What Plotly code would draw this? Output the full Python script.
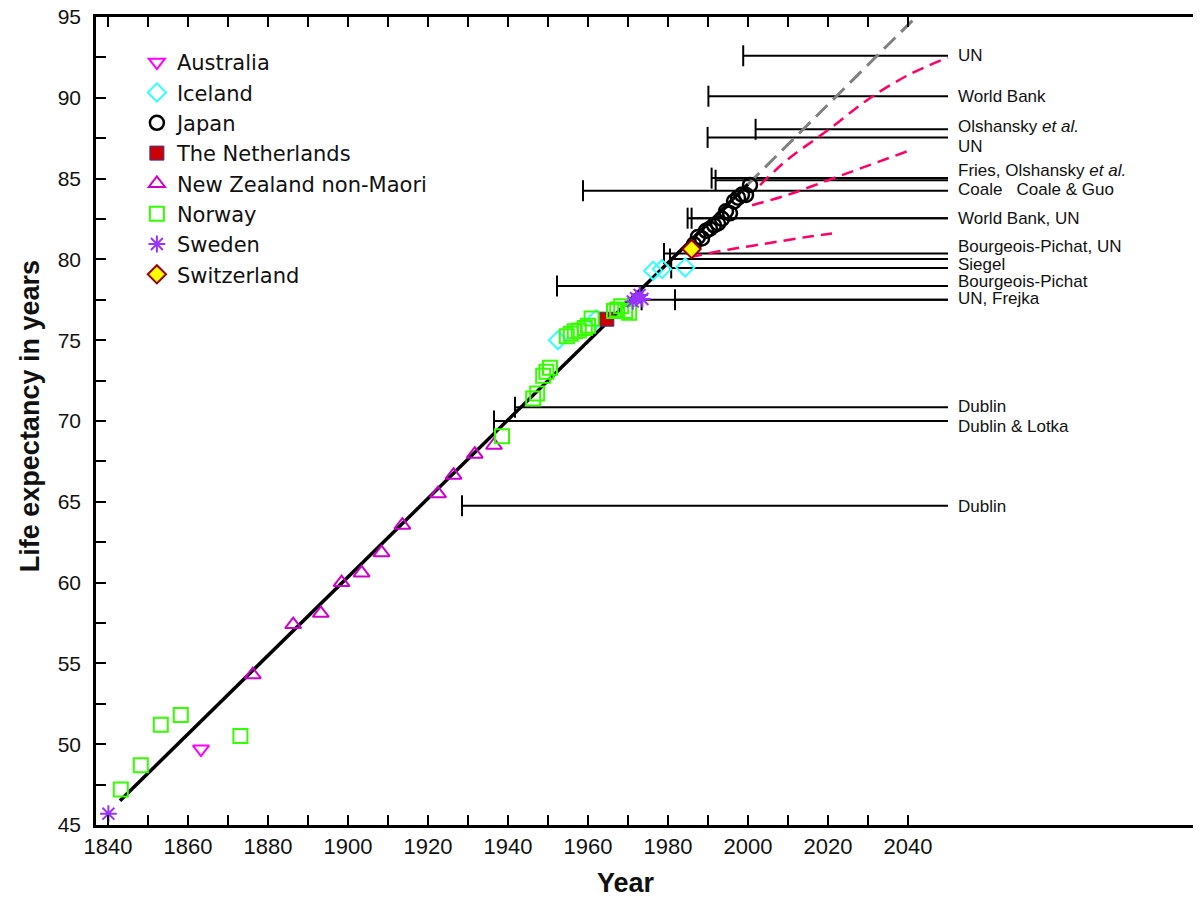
import plotly.graph_objects as go

# ---------------- data ----------------
aus_year = [1863.25]
aus_e0 = [49.7]

ice_year = [1952.5, 1962.0, 1976.3, 1978.5, 1984.3]
ice_e0 = [75.0, 76.3, 79.3, 79.4, 79.5]

jpn_year = [1986.5, 1987.5, 1988.5, 1989.5, 1990.5, 1991.5, 1992.5, 1993.5,
            1994.5, 1995.5, 1996.5, 1997.5, 1998.5, 1999.5, 2000.5]
jpn_e0 = [80.93, 81.39, 81.30, 81.77, 81.90, 82.11, 82.22, 82.51,
          82.98, 82.85, 83.59, 83.82, 84.01, 83.99, 84.60]

nld_year = [1964.7]
nld_e0 = [76.3]

nzl_year = [1876.2, 1886.3, 1893.2, 1898.4, 1903.4, 1908.4, 1913.6, 1922.5,
            1926.4, 1931.7, 1936.5]
nzl_e0 = [54.3, 57.4, 58.1, 60.0, 60.6, 61.85, 63.55, 65.5, 66.65, 67.95, 68.5]

nor_year = [1843.2, 1848.2, 1853.2, 1858.2, 1873.1, 1938.5, 1946.3, 1947.3,
            1948.8, 1949.6, 1950.5, 1954.7, 1955.7, 1956.7, 1957.7, 1959.2,
            1960.0, 1960.9, 1966.5, 1967.3, 1968.3, 1969.3, 1970.3]
nor_e0 = [47.2, 48.7, 51.2, 51.8, 50.5, 69.05, 71.4, 71.7, 72.8, 73.05, 73.3,
          75.25, 75.4, 75.55, 75.6, 75.75, 75.9, 76.35, 76.8, 76.9, 77.1, 76.8, 76.7]

swe_year = [1840.1, 1971.2, 1972.0, 1972.9, 1973.6]
swe_e0 = [45.7, 77.4, 77.6, 77.8, 77.55]

che_year = [1985.9]
che_e0 = [80.64]

# linear trend of record life expectancy and its extrapolation
trend_year = [1843, 2000]
trend_e0 = [46.5, 84.65]
extrap_year = [2000, 2042]
extrap_e0 = [84.65, 95.0]

# official projections (dashed red)
proj1_year = [2003, 2010, 2020, 2030, 2040, 2050]
proj1_e0 = [84.6, 86.2, 88.0, 89.9, 91.4, 92.5]
proj2_year = [2001, 2010, 2020, 2030, 2041]
proj2_e0 = [83.35, 84.0, 84.9, 85.8, 86.8]
proj3_year = [1985.5, 1995, 2005, 2015, 2021]
proj3_e0 = [80.15, 80.6, 81.0, 81.4, 81.6]

# asserted ceilings: year asserted, level
ceil_start = [1998.8, 1990.1, 2001.9, 1989.9, 1990.9, 1991.9, 1958.75, 1984.9,
              1985.9, 1979.0, 1980.5, 1980.8, 1952.25, 1973.4, 1981.75,
              1941.75, 1936.5, 1928.5]
ceil_level = [92.6, 90.1, 88.05, 87.55, 85.03, 84.9, 84.25, 82.55,
              82.55, 80.37, 80.03, 79.47, 78.35, 77.5, 77.5,
              70.85, 70.0, 64.75]
ceil_end = 2050

label_text = ["UN", "World Bank", "Olshansky <i>et al.</i>", "UN",
              "Fries, Olshansky <i>et al.</i>", "Coale   Coale & Guo",
              "World Bank, UN", "Bourgeois-Pichat, UN", "Siegel",
              "Bourgeois-Pichat", "UN, Frejka", "Dublin", "Dublin & Lotka", "Dublin"]
label_y = [92.6, 90.07, 88.2, 87.0, 85.5, 84.35, 82.55, 80.77, 79.7,
           78.66, 77.55, 70.87, 69.63, 64.74]
label_x = 2052

x_ticks = list(range(1840, 2041, 10))
x_ticktext = [str(v) if v % 20 == 0 else "" for v in x_ticks]
y_ticks = [45 + 2.5 * i for i in range(21)]
y_ticktext = [str(int(v)) if v % 5 == 0 else "" for v in y_ticks]

FONT = "Liberation Sans, Arial, Helvetica, sans-serif"

fig = go.Figure()

# ceilings
for s, lv in zip(ceil_start, ceil_level):
    fig.add_trace(go.Scatter(x=[s, ceil_end], y=[lv, lv], mode="lines",
                             line=dict(color="black", width=2),
                             showlegend=False, hoverinfo="skip"))
fig.add_trace(go.Scatter(x=ceil_start, y=ceil_level, mode="markers",
                         marker=dict(symbol="line-ns", size=15,
                                     line=dict(color="black", width=2)),
                         showlegend=False, hoverinfo="skip"))

# projections
for xs, ys in [(proj1_year, proj1_e0), (proj2_year, proj2_e0), (proj3_year, proj3_e0)]:
    fig.add_trace(go.Scatter(x=xs, y=ys, mode="lines", line_shape="spline",
                             line=dict(color="#FF0066", width=2.5, dash="12px,7px"),
                             showlegend=False, hoverinfo="skip"))

fig.add_trace(go.Scatter(x=extrap_year, y=extrap_e0, mode="lines",
                         line=dict(color="#808080", width=3, dash="16px,8px"),
                         showlegend=False, hoverinfo="skip"))
fig.add_trace(go.Scatter(x=trend_year, y=trend_e0, mode="lines",
                         line=dict(color="black", width=3.5),
                         showlegend=False, hoverinfo="skip"))

series = [
    ("Australia", aus_year, aus_e0, "triangle-down-open", "#FF00FF", None, 14),
    ("Iceland", ice_year, ice_e0, "diamond-open", "#33FFFF", None, 14),
    ("Japan", jpn_year, jpn_e0, "circle-open", "black", None, 14),
    ("The Netherlands", nld_year, nld_e0, "square", "#CC0000", "#333399", 14),
    ("New Zealand non-Maori", nzl_year, nzl_e0, "triangle-up-open", "#CC00CC", None, 14),
    ("Norway", nor_year, nor_e0, "square-open", "#33FF00", None, 14),
    ("Sweden", swe_year, swe_e0, "asterisk-open", "#9933FF", None, 14),
    ("Switzerland", che_year, che_e0, "diamond", "#FFFF00", "#990000", 14),
]
for i, (name, xs, ys, sym, col, lcol, sz) in enumerate(series):
    if lcol is None:
        lw = 2.5 if name == "Japan" else 2
        mk = dict(symbol=sym, size=sz, color=col, line=dict(color=col, width=lw))
    else:
        mk = dict(symbol=sym, size=sz, color=col,
                  line=dict(color=lcol, width=2 if sym == "diamond" else 1))
    fig.add_trace(go.Scatter(x=xs, y=ys, mode="markers", name=name, marker=mk))

for t, yv in zip(label_text, label_y):
    fig.add_annotation(x=label_x, y=yv, xref="x", yref="y", text=t, showarrow=False,
                       xanchor="left", yanchor="middle",
                       font=dict(family=FONT, size=17, color="#111"))

fig.add_annotation(x=0.48, y=-0.0718, xref="paper", yref="paper", text="<b>Year</b>",
                   showarrow=False, xanchor="center", yanchor="middle",
                   font=dict(family=FONT, size=27, color="#111"))
fig.add_annotation(x=-0.0597, y=0.506, xref="paper", yref="paper",
                   text="<b>Life expectancy in years</b>", textangle=-90,
                   showarrow=False, xanchor="center", yanchor="middle",
                   font=dict(family=FONT, size=27, color="#111"))

# page body has an 8px margin, so the figure is 8px smaller and shifted
fig.update_layout(
    width=1193, height=892,
    margin=dict(l=88, r=0, t=9, b=75, autoexpand=False),
    paper_bgcolor="white", plot_bgcolor="white",
    font=dict(family=FONT, color="black"),
    legend=dict(x=0.037, y=0.969, xanchor="left", yanchor="top",
                bgcolor="rgba(0,0,0,0)",
                font=dict(family="DejaVu Sans, Liberation Sans, sans-serif", size=21, color="#111"),
                traceorder="normal"),
    showlegend=True,
)
fig.update_xaxes(range=[1837, 2113.25], tickmode="array", tickvals=x_ticks,
                 ticktext=x_ticktext, ticks="inside", ticklen=10, tickwidth=2,
                 tickcolor="black", showline=True, linewidth=2.5, linecolor="black",
                 mirror="ticks", showgrid=False, zeroline=False, automargin=False,
                 ticklabeloverflow="allow",
                 tickfont=dict(size=22, color="#111"))
fig.update_yaxes(range=[45, 95], tickmode="array", tickvals=y_ticks,
                 ticktext=y_ticktext, ticks="inside", ticklen=10, tickwidth=2,
                 tickcolor="black", showline=True, linewidth=2.5, linecolor="black",
                 showgrid=False, zeroline=False, automargin=False,
                 ticklabelstandoff=8, ticklabeloverflow="allow",
                 tickfont=dict(size=21, color="#111"))

fig.write_html("out.html")
